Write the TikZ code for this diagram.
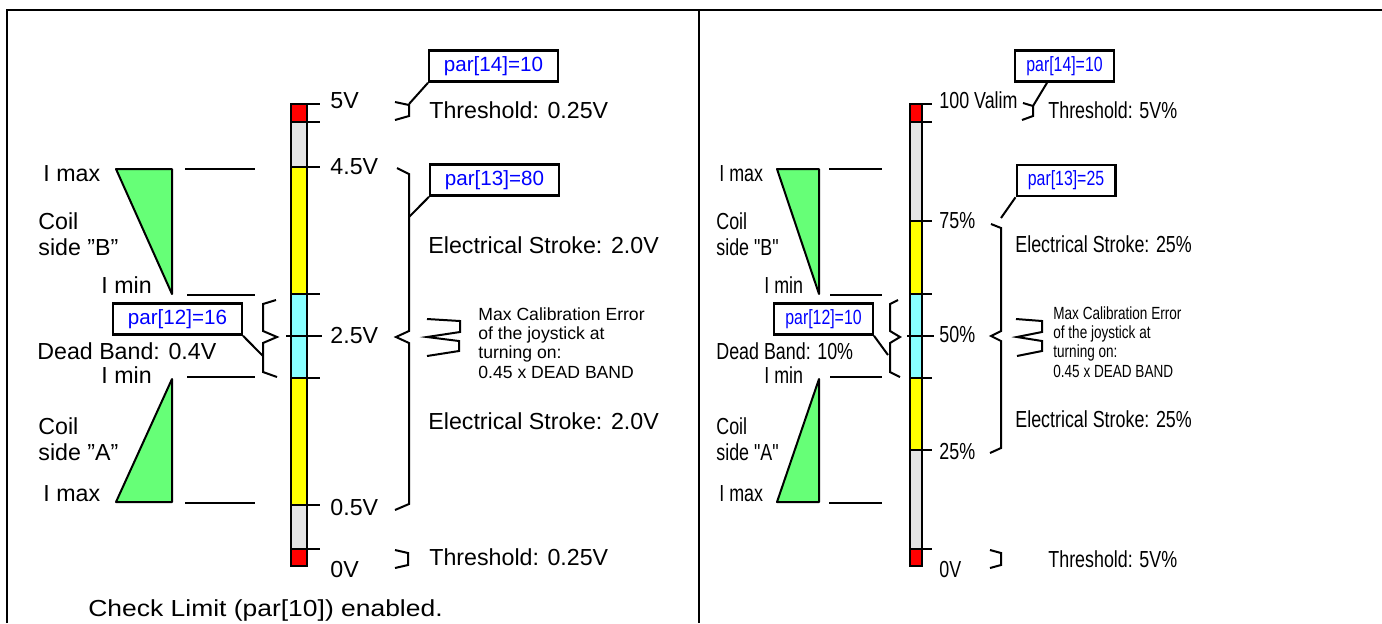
\documentclass[tikz,border=0pt]{standalone}
\usepackage{fontspec}
\setmainfont{Liberation Sans}
\newfontfamily\narrowsans[FakeStretch=0.77]{Liberation Sans}
\newfontfamily\widesans[FakeStretch=1.14]{Liberation Sans}
\newcommand\lblsize{\fontsize{11.6}{13}\selectfont}
\newcommand\parsize{\fontsize{10.3}{12}\selectfont}
\newcommand\notesize{\fontsize{8.8}{9.65}\selectfont}
\newcommand\dq{\symbol{34}}
\definecolor{barred}{HTML}{FF0000}
\definecolor{bargray}{HTML}{E4E4E4}
\definecolor{baryellow}{HTML}{FFFF00}
\definecolor{barcyan}{HTML}{88FFFF}
\definecolor{coilgreen}{HTML}{66FF77}
\definecolor{parblue}{HTML}{0000FF}
\begin{document}
\begin{tikzpicture}[x=0.5pt,y=-0.5pt,line join=miter]
  \tikzstyle{lbl}=[anchor=base west, inner sep=0pt, font=\lblsize]
  \tikzstyle{lblr}=[anchor=base west, inner sep=0pt, font=\narrowsans\lblsize]
  \tikzstyle{coiltxt}=[anchor=north west, inner sep=0pt, align=left, font=\lblsize]
  \tikzstyle{coiltxtr}=[anchor=north west, inner sep=0pt, align=left, font=\narrowsans\lblsize]
  \tikzstyle{note}=[anchor=north west, inner sep=0pt, align=left, font=\notesize]
  \tikzstyle{noter}=[anchor=north west, inner sep=0pt, align=left, font=\narrowsans\notesize]
  \tikzstyle{parbox}=[draw, line width=1.2pt, inner sep=0pt, minimum width=64.3pt,
    minimum height=15.6pt, text=parblue, font=\parsize]
  \tikzstyle{parboxr}=[parbox, minimum width=49.3pt, font=\narrowsans\parsize]
  \tikzstyle{coil}=[draw, line width=1pt, line join=round, fill=coilgreen]
  \tikzstyle{tick}=[line width=0.9pt]
  \tikzstyle{brace}=[line width=1pt]

  \useasboundingbox (0,0) rectangle (1382,623);
  \draw[line width=0.8pt] (7,623) -- (7,10) -- (1382,10);
  \draw[line width=0.8pt] (699,10) -- (699,623);

  % left panel: voltage scale
  \fill[barred] (291,104) rectangle (307,122);
  \fill[bargray] (291,122) rectangle (307,167);
  \fill[baryellow] (291,167) rectangle (307,294);
  \fill[barcyan] (291,294) rectangle (307,378);
  \fill[baryellow] (291,378) rectangle (307,505);
  \fill[bargray] (291,505) rectangle (307,549);
  \fill[barred] (291,549) rectangle (307,566);
  \draw[line width=1.2pt] (291,104) rectangle (307,566);
  \draw[tick] (291,104) -- (320,104);
  \draw[tick] (291,122) -- (320,122);
  \draw[tick] (291,167) -- (320,167);
  \draw[tick] (291,294) -- (320,294);
  \draw[tick] (286,336) -- (322,336);
  \draw[tick] (291,378) -- (320,378);
  \draw[tick] (291,505) -- (320,505);
  \draw[tick] (291,549) -- (320,549);

  \node[lbl] (v5l) at (330,108) {5V};
  \node[lbl] (v45l) at (330,174) {4.5V};
  \node[lbl] (v25l) at (330,343) {2.5V};
  \node[lbl] (v05l) at (330,515) {0.5V};
  \node[lbl] (v0l) at (330,577) {0V};

  % left panel: coils
  \draw[coil] (116,169) -- (172,169) -- (172,294) -- cycle;
  \draw[coil] (116,502) -- (172,502) -- (172,379) -- cycle;
  \draw[tick] (185,169) -- (255,169);
  \draw[tick] (187,295) -- (255,295);
  \draw[tick] (187,377) -- (255,377);
  \draw[tick] (185,503) -- (255,503);

  \node[lbl] (imaxbl) at (43,181) {I max};
  \node[coiltxt] (coilbl) at (38,212) {Coil\\side \dq B\dq};
  \node[lbl] (iminbl) at (101,293) {I min};
  \node[lbl] (deadl) at (37,359) {Dead Band: 0.4V};
  \node[lbl] (iminal) at (101,383) {I min};
  \node[coiltxt] (coilal) at (38,417) {Coil\\side \dq A\dq};
  \node[lbl] (imaxal) at (43,501) {I max};

  % left panel: parameters
  \node[parbox] (p14l) at (493.5,66) {par[14]=10};
  \node[parbox] (p13l) at (494.5,180) {par[13]=80};
  \node[parbox] (p12l) at (177.5,319) {par[12]=16};

  \coordinate (thtl) at (409,104);
  \coordinate (strl) at (409,217);
  \coordinate (dbcl) at (263,356);
  \draw[brace] (395,102) -- (409,105) -- (409,116) -- (395,120);
  \draw[brace] (397,168) -- (409,174) -- (409,331) -- (396,337) -- (409,343) -- (409,504) -- (395,510);
  \draw[brace] (276,300) -- (263,304) -- (263,331) -- (277,337) -- (263,343) -- (263,372) -- (277,377);
  \draw[brace] (395,550) -- (408,553) -- (408,565) -- (395,568);
  \draw[brace] (427,319) -- (460,321) -- (460,332) -- (427,337) -- (459,341) -- (459,351) -- (427,356);
  \draw[brace] (p14l.south west) -- (thtl);
  \draw[brace] (p13l.south west) -- (strl);
  \draw[brace] (p12l.south east) -- (dbcl);

  \node[lbl] (thl) at (429,118) {Threshold: 0.25V};
  \node[lbl] (es1l) at (428,253) {Electrical Stroke: 2.0V};
  \node[note] (call) at (478,307) {Max Calibration Error\\of the joystick at\\turning on:\\0.45 x DEAD BAND};
  \node[lbl] (es2l) at (428,429) {Electrical Stroke: 2.0V};
  \node[lbl] (thbl) at (429,565) {Threshold: 0.25V};
  \node[anchor=base west, inner sep=0pt, font=\widesans\lblsize] (chk) at (88,616) {Check Limit (par[10]) enabled.};

  % right panel: percent scale
  \fill[barred] (910,104) rectangle (922,122);
  \fill[bargray] (910,122) rectangle (922,221);
  \fill[baryellow] (910,221) rectangle (922,294);
  \fill[barcyan] (910,294) rectangle (922,378);
  \fill[baryellow] (910,378) rectangle (922,450);
  \fill[bargray] (910,450) rectangle (922,549);
  \fill[barred] (910,549) rectangle (922,566);
  \draw[line width=1.2pt] (910,104) rectangle (922,566);
  \draw[tick] (910,104) -- (932,104);
  \draw[tick] (910,122) -- (932,122);
  \draw[tick] (910,221) -- (932,221);
  \draw[tick] (910,294) -- (932,294);
  \draw[tick] (907,336) -- (934,336);
  \draw[tick] (910,378) -- (932,378);
  \draw[tick] (910,450) -- (932,450);
  \draw[tick] (910,549) -- (932,549);

  \node[lblr] (v100r) at (939,108) {100 Valim};
  \node[lblr] (v75r) at (939,228) {75\%};
  \node[lblr] (v50r) at (939,342) {50\%};
  \node[lblr] (v25r) at (939,459) {25\%};
  \node[lblr] (v0r) at (939,577) {0V};

  % right panel: coils
  \draw[coil] (777,169) -- (819,169) -- (819,294) -- cycle;
  \draw[coil] (777,502) -- (819,502) -- (819,379) -- cycle;
  \draw[tick] (829,169) -- (882,169);
  \draw[tick] (830,295) -- (882,295);
  \draw[tick] (830,377) -- (882,377);
  \draw[tick] (829,503) -- (882,503);

  \node[lblr] (imaxbr) at (719,181) {I max};
  \node[coiltxtr] (coilbr) at (716,212) {Coil\\side \dq B\dq};
  \node[lblr] (iminbr) at (764,293) {I min};
  \node[lblr] (deadr) at (716,359) {Dead Band: 10\%};
  \node[lblr] (iminar) at (764,383) {I min};
  \node[coiltxtr] (coilar) at (716,417) {Coil\\side \dq A\dq};
  \node[lblr] (imaxar) at (719,501) {I max};

  % right panel: parameters
  \node[parboxr] (p14r) at (1064.5,66) {par[14]=10};
  \node[parboxr] (p13r) at (1066,180.5) {par[13]=25};
  \node[parboxr] (p12r) at (823.5,319) {par[12]=10};

  \coordinate (thtr) at (1033,106);
  \coordinate (strr) at (1001,218);
  \coordinate (dbcr) at (888,355);
  \draw[brace] (1023,103) -- (1033,106) -- (1033,116) -- (1022,120);
  \draw[brace] (991,224) -- (1001,228) -- (1001,331) -- (991,336) -- (1001,341) -- (1001,448) -- (990,453);
  \draw[brace] (898,300) -- (890,304) -- (890,331) -- (900,337) -- (890,343) -- (890,372) -- (900,377);
  \draw[brace] (990,550) -- (1001,553) -- (1001,565) -- (990,568);
  \draw[brace] (1016,319) -- (1042,321) -- (1042,332) -- (1017,337) -- (1042,341) -- (1042,351) -- (1017,356);
  \draw[brace] ([xshift=16.5pt]p14r.south west) -- (thtr);
  \draw[brace] (p13r.south west) -- (strr);
  \draw[brace] (p12r.south east) -- (dbcr);

  \node[lblr] (thr) at (1048,118) {Threshold: 5V\%};
  \node[lblr] (es1r) at (1015,252) {Electrical Stroke: 25\%};
  \node[noter] (calr) at (1053,306) {Max Calibration Error\\of the joystick at\\turning on:\\0.45 x DEAD BAND};
  \node[lblr] (es2r) at (1015,427) {Electrical Stroke: 25\%};
  \node[lblr] (thbr) at (1048,567) {Threshold: 5V\%};
\end{tikzpicture}
\end{document}
